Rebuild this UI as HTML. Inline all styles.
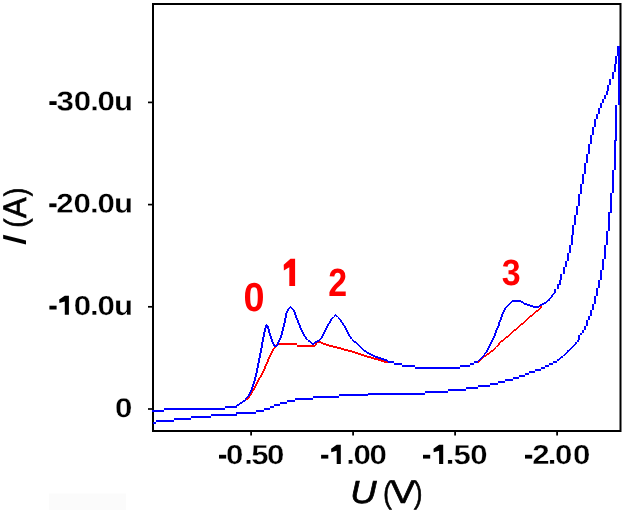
<!DOCTYPE html>
<html><head><meta charset="utf-8"><style>
html,body{margin:0;padding:0;background:#fff;}
body{width:625px;height:514px;overflow:hidden;}
svg{display:block;will-change:transform;}
text{font-family:"Liberation Sans",sans-serif;text-rendering:geometricPrecision;}
.t text{font-weight:bold;fill:#000;font-size:27.4px;stroke:#fff;stroke-width:0.3px;}
</style></head><body>
<svg width="625" height="514" viewBox="0 0 625 514">
<rect x="0" y="0" width="625" height="514" fill="#fff"/>
<rect x="49" y="493.5" width="77" height="16.5" fill="#fbfbfb"/>
<g>
<rect x="153" y="4" width="467.5" height="427" fill="none" stroke="#000" stroke-width="2"/>
<g stroke="#000" stroke-width="1.7">
<line x1="148" y1="102.4" x2="152" y2="102.4"/>
<line x1="148" y1="204.6" x2="152" y2="204.6"/>
<line x1="148" y1="306.8" x2="152" y2="306.8"/>
<line x1="148" y1="409" x2="152" y2="409"/>
</g>
<g stroke="#000" stroke-width="1.8">
<line x1="251.1" y1="432" x2="251.1" y2="435.6"/>
<line x1="353.1" y1="432" x2="353.1" y2="435.6"/>
<line x1="455.1" y1="432" x2="455.1" y2="435.6"/>
<line x1="557.1" y1="432" x2="557.1" y2="435.6"/>
</g>
<path d="M540,306h2v1h-2zM540,307h2v1h-2zM539,308h2v1h-2zM538,309h2v1h-2zM536,310h3v1h-3zM535,311h3v1h-3zM534,312h2v1h-2zM533,313h2v1h-2zM532,314h2v1h-2zM530,315h3v1h-3zM529,316h3v1h-3zM528,317h2v1h-2zM527,318h2v1h-2zM526,319h2v1h-2zM525,320h2v1h-2zM524,321h2v1h-2zM523,322h2v1h-2zM521,323h3v1h-3zM520,324h3v1h-3zM519,325h2v1h-2zM518,326h2v1h-2zM517,327h2v1h-2zM516,328h2v1h-2zM514,329h3v1h-3zM513,330h3v1h-3zM512,331h2v1h-2zM511,332h2v1h-2zM510,333h2v1h-2zM509,334h2v1h-2zM508,335h2v1h-2zM506,336h3v1h-3zM505,337h3v1h-3zM504,338h2v1h-2zM503,339h2v1h-2zM501,340h3v1h-3zM317,341h4v1h-4zM500,341h3v1h-3zM315,342h8v1h-8zM499,342h2v1h-2zM277,343h20v1h-20zM315,343h2v1h-2zM321,343h5v1h-5zM498,343h2v1h-2zM276,344h21v1h-21zM315,344h2v1h-2zM323,344h6v1h-6zM498,344h2v1h-2zM275,345h2v1h-2zM297,345h19v1h-19zM326,345h7v1h-7zM497,345h2v1h-2zM275,346h1v1h-1zM297,346h18v1h-18zM329,346h8v1h-8zM496,346h2v1h-2zM274,347h2v1h-2zM333,347h8v1h-8zM495,347h1v1h-1zM273,348h2v1h-2zM337,348h7v1h-7zM494,348h2v1h-2zM272,349h2v1h-2zM341,349h7v1h-7zM493,349h2v1h-2zM272,350h2v1h-2zM344,350h8v1h-8zM491,350h3v1h-3zM271,351h2v1h-2zM348,351h7v1h-7zM490,351h3v1h-3zM271,352h2v1h-2zM352,352h6v1h-6zM489,352h2v1h-2zM270,353h2v1h-2zM355,353h6v1h-6zM487,353h3v1h-3zM270,354h2v1h-2zM358,354h6v1h-6zM486,354h3v1h-3zM269,355h2v1h-2zM361,355h6v1h-6zM484,355h3v1h-3zM269,356h2v1h-2zM364,356h7v1h-7zM483,356h3v1h-3zM268,357h2v1h-2zM367,357h7v1h-7zM482,357h2v1h-2zM268,358h2v1h-2zM371,358h7v1h-7zM481,358h2v1h-2zM267,359h2v1h-2zM374,359h7v1h-7zM480,359h2v1h-2zM267,360h2v1h-2zM378,360h6v1h-6zM479,360h2v1h-2zM267,361h2v1h-2zM381,361h7v1h-7zM478,361h2v1h-2zM266,362h2v1h-2zM384,362h4v1h-4zM478,362h1v1h-1zM266,363h2v1h-2zM265,364h2v1h-2zM265,365h2v1h-2zM264,366h2v1h-2zM264,367h2v1h-2zM264,368h2v1h-2zM263,369h2v1h-2zM263,370h2v1h-2zM262,371h2v1h-2zM262,372h2v1h-2zM261,373h2v1h-2zM261,374h2v1h-2zM260,375h2v1h-2zM260,376h2v1h-2zM259,377h2v1h-2zM258,378h2v1h-2zM258,379h2v1h-2zM257,380h2v1h-2zM257,381h2v1h-2zM256,382h2v1h-2zM256,383h2v1h-2zM255,384h2v1h-2zM255,385h2v1h-2zM254,386h2v1h-2zM254,387h2v1h-2zM253,388h2v1h-2zM253,389h2v1h-2zM252,390h2v1h-2zM251,391h2v1h-2zM251,392h2v1h-2zM250,393h2v1h-2zM250,394h2v1h-2zM249,395h2v1h-2zM248,396h2v1h-2zM248,397h2v1h-2zM247,398h2v1h-2zM246,399h2v1h-2z" fill="#f00" shape-rendering="crispEdges"/>
<path d="M617,46h3v1h-3zM617,47h3v1h-3zM617,48h3v1h-3zM617,49h3v1h-3zM617,50h3v1h-3zM617,51h3v1h-3zM617,52h3v1h-3zM617,53h3v1h-3zM617,54h3v1h-3zM617,55h3v1h-3zM615,56h2v1h-2zM618,56h2v1h-2zM615,57h2v1h-2zM618,57h2v1h-2zM615,58h2v1h-2zM618,58h2v1h-2zM615,59h2v1h-2zM618,59h2v1h-2zM615,60h2v1h-2zM618,60h2v1h-2zM615,61h2v1h-2zM618,61h2v1h-2zM615,62h2v1h-2zM618,62h2v1h-2zM615,63h2v1h-2zM618,63h2v1h-2zM614,64h2v1h-2zM618,64h2v1h-2zM614,65h2v1h-2zM618,65h2v1h-2zM614,66h2v1h-2zM618,66h2v1h-2zM614,67h2v1h-2zM618,67h2v1h-2zM614,68h2v1h-2zM618,68h2v1h-2zM614,69h2v1h-2zM618,69h2v1h-2zM614,70h2v1h-2zM618,70h2v1h-2zM614,71h2v1h-2zM618,71h2v1h-2zM612,72h2v1h-2zM618,72h2v1h-2zM612,73h2v1h-2zM618,73h2v1h-2zM612,74h2v1h-2zM618,74h2v1h-2zM612,75h2v1h-2zM618,75h2v1h-2zM612,76h2v1h-2zM618,76h2v1h-2zM612,77h2v1h-2zM618,77h2v1h-2zM612,78h2v1h-2zM618,78h2v1h-2zM609,79h2v1h-2zM618,79h2v1h-2zM609,80h2v1h-2zM618,80h2v1h-2zM609,81h2v1h-2zM618,81h2v1h-2zM609,82h2v1h-2zM618,82h2v1h-2zM609,83h2v1h-2zM618,83h2v1h-2zM609,84h2v1h-2zM618,84h2v1h-2zM607,85h2v1h-2zM618,85h2v1h-2zM607,86h2v1h-2zM618,86h2v1h-2zM607,87h2v1h-2zM618,87h2v1h-2zM607,88h2v1h-2zM618,88h2v1h-2zM607,89h2v1h-2zM618,89h2v1h-2zM607,90h2v1h-2zM618,90h2v1h-2zM606,91h2v1h-2zM618,91h2v1h-2zM606,92h2v1h-2zM618,92h2v1h-2zM606,93h2v1h-2zM618,93h2v1h-2zM606,94h2v1h-2zM618,94h2v1h-2zM604,95h2v1h-2zM618,95h2v1h-2zM604,96h2v1h-2zM618,96h2v1h-2zM604,97h2v1h-2zM618,97h2v1h-2zM604,98h2v1h-2zM618,98h2v1h-2zM602,99h2v1h-2zM618,99h2v1h-2zM602,100h2v1h-2zM618,100h2v1h-2zM602,101h2v1h-2zM618,101h2v1h-2zM602,102h2v1h-2zM618,102h2v1h-2zM600,103h2v1h-2zM618,103h2v1h-2zM600,104h2v1h-2zM618,104h2v1h-2zM600,105h2v1h-2zM615,105h2v1h-2zM600,106h2v1h-2zM615,106h2v1h-2zM600,107h2v1h-2zM615,107h2v1h-2zM598,108h2v1h-2zM615,108h2v1h-2zM598,109h2v1h-2zM615,109h2v1h-2zM598,110h2v1h-2zM615,110h2v1h-2zM598,111h2v1h-2zM615,111h2v1h-2zM598,112h2v1h-2zM615,112h2v1h-2zM598,113h2v1h-2zM615,113h2v1h-2zM596,114h2v1h-2zM615,114h2v1h-2zM596,115h2v1h-2zM615,115h2v1h-2zM596,116h2v1h-2zM615,116h2v1h-2zM596,117h2v1h-2zM615,117h2v1h-2zM596,118h2v1h-2zM615,118h2v1h-2zM594,119h2v1h-2zM615,119h2v1h-2zM594,120h2v1h-2zM615,120h2v1h-2zM594,121h2v1h-2zM615,121h2v1h-2zM594,122h2v1h-2zM615,122h2v1h-2zM594,123h2v1h-2zM615,123h2v1h-2zM594,124h2v1h-2zM615,124h2v1h-2zM594,125h2v1h-2zM615,125h2v1h-2zM594,126h2v1h-2zM615,126h2v1h-2zM592,127h2v1h-2zM615,127h2v1h-2zM592,128h2v1h-2zM615,128h2v1h-2zM592,129h2v1h-2zM615,129h2v1h-2zM592,130h2v1h-2zM615,130h2v1h-2zM592,131h2v1h-2zM615,131h2v1h-2zM592,132h2v1h-2zM615,132h2v1h-2zM592,133h2v1h-2zM615,133h2v1h-2zM592,134h2v1h-2zM615,134h2v1h-2zM590,135h2v1h-2zM615,135h2v1h-2zM590,136h2v1h-2zM615,136h2v1h-2zM590,137h2v1h-2zM615,137h2v1h-2zM590,138h2v1h-2zM615,138h2v1h-2zM590,139h2v1h-2zM615,139h2v1h-2zM590,140h2v1h-2zM614,140h3v1h-3zM590,141h2v1h-2zM614,141h2v1h-2zM590,142h2v1h-2zM614,142h2v1h-2zM590,143h2v1h-2zM614,143h2v1h-2zM588,144h2v1h-2zM614,144h2v1h-2zM588,145h2v1h-2zM614,145h2v1h-2zM588,146h2v1h-2zM614,146h2v1h-2zM588,147h2v1h-2zM614,147h2v1h-2zM588,148h2v1h-2zM614,148h2v1h-2zM588,149h2v1h-2zM614,149h2v1h-2zM588,150h2v1h-2zM614,150h2v1h-2zM588,151h2v1h-2zM614,151h2v1h-2zM588,152h2v1h-2zM614,152h2v1h-2zM588,153h2v1h-2zM614,153h2v1h-2zM586,154h2v1h-2zM614,154h2v1h-2zM586,155h2v1h-2zM614,155h2v1h-2zM586,156h2v1h-2zM614,156h2v1h-2zM586,157h2v1h-2zM614,157h2v1h-2zM586,158h2v1h-2zM614,158h2v1h-2zM586,159h2v1h-2zM614,159h2v1h-2zM586,160h2v1h-2zM614,160h2v1h-2zM586,161h2v1h-2zM614,161h2v1h-2zM586,162h2v1h-2zM614,162h2v1h-2zM584,163h2v1h-2zM614,163h2v1h-2zM584,164h2v1h-2zM614,164h2v1h-2zM584,165h2v1h-2zM614,165h2v1h-2zM584,166h2v1h-2zM614,166h2v1h-2zM584,167h2v1h-2zM614,167h2v1h-2zM584,168h2v1h-2zM614,168h2v1h-2zM584,169h2v1h-2zM614,169h2v1h-2zM584,170h2v1h-2zM612,170h2v1h-2zM584,171h2v1h-2zM612,171h2v1h-2zM584,172h2v1h-2zM612,172h2v1h-2zM584,173h2v1h-2zM612,173h2v1h-2zM582,174h2v1h-2zM612,174h2v1h-2zM582,175h2v1h-2zM612,175h2v1h-2zM582,176h2v1h-2zM612,176h2v1h-2zM582,177h2v1h-2zM612,177h2v1h-2zM582,178h2v1h-2zM612,178h2v1h-2zM582,179h2v1h-2zM612,179h2v1h-2zM582,180h2v1h-2zM612,180h2v1h-2zM582,181h2v1h-2zM612,181h2v1h-2zM582,182h2v1h-2zM612,182h2v1h-2zM582,183h2v1h-2zM612,183h2v1h-2zM580,184h2v1h-2zM612,184h2v1h-2zM580,185h2v1h-2zM612,185h2v1h-2zM580,186h2v1h-2zM612,186h2v1h-2zM580,187h2v1h-2zM612,187h2v1h-2zM580,188h2v1h-2zM612,188h2v1h-2zM580,189h2v1h-2zM612,189h2v1h-2zM580,190h2v1h-2zM612,190h2v1h-2zM580,191h2v1h-2zM612,191h2v1h-2zM580,192h2v1h-2zM612,192h2v1h-2zM580,193h2v1h-2zM610,193h2v1h-2zM578,194h2v1h-2zM610,194h2v1h-2zM578,195h2v1h-2zM610,195h2v1h-2zM578,196h2v1h-2zM610,196h2v1h-2zM578,197h2v1h-2zM610,197h2v1h-2zM578,198h2v1h-2zM610,198h2v1h-2zM578,199h2v1h-2zM610,199h2v1h-2zM578,200h2v1h-2zM610,200h2v1h-2zM578,201h2v1h-2zM610,201h2v1h-2zM578,202h2v1h-2zM610,202h2v1h-2zM578,203h2v1h-2zM610,203h2v1h-2zM578,204h2v1h-2zM610,204h2v1h-2zM578,205h2v1h-2zM610,205h2v1h-2zM576,206h2v1h-2zM610,206h2v1h-2zM576,207h2v1h-2zM610,207h2v1h-2zM576,208h2v1h-2zM610,208h2v1h-2zM576,209h2v1h-2zM610,209h2v1h-2zM576,210h2v1h-2zM610,210h2v1h-2zM576,211h2v1h-2zM610,211h2v1h-2zM576,212h2v1h-2zM608,212h4v1h-4zM576,213h2v1h-2zM608,213h2v1h-2zM576,214h2v1h-2zM608,214h2v1h-2zM574,215h2v1h-2zM608,215h2v1h-2zM574,216h2v1h-2zM608,216h2v1h-2zM574,217h2v1h-2zM608,217h2v1h-2zM574,218h2v1h-2zM608,218h2v1h-2zM574,219h2v1h-2zM608,219h2v1h-2zM574,220h2v1h-2zM608,220h2v1h-2zM574,221h2v1h-2zM608,221h2v1h-2zM574,222h2v1h-2zM608,222h2v1h-2zM574,223h2v1h-2zM608,223h2v1h-2zM574,224h2v1h-2zM608,224h2v1h-2zM572,225h2v1h-2zM608,225h2v1h-2zM572,226h2v1h-2zM608,226h2v1h-2zM572,227h2v1h-2zM608,227h2v1h-2zM572,228h2v1h-2zM608,228h2v1h-2zM572,229h2v1h-2zM608,229h2v1h-2zM572,230h2v1h-2zM608,230h2v1h-2zM572,231h2v1h-2zM606,231h2v1h-2zM572,232h2v1h-2zM606,232h2v1h-2zM572,233h2v1h-2zM606,233h2v1h-2zM572,234h2v1h-2zM606,234h2v1h-2zM571,235h2v1h-2zM606,235h2v1h-2zM571,236h2v1h-2zM606,236h2v1h-2zM571,237h2v1h-2zM606,237h2v1h-2zM571,238h2v1h-2zM606,238h2v1h-2zM571,239h2v1h-2zM606,239h2v1h-2zM571,240h2v1h-2zM606,240h2v1h-2zM571,241h2v1h-2zM606,241h2v1h-2zM571,242h2v1h-2zM606,242h2v1h-2zM571,243h2v1h-2zM606,243h2v1h-2zM571,244h2v1h-2zM606,244h2v1h-2zM569,245h2v1h-2zM604,245h2v1h-2zM569,246h2v1h-2zM604,246h2v1h-2zM569,247h2v1h-2zM604,247h2v1h-2zM569,248h2v1h-2zM604,248h2v1h-2zM569,249h2v1h-2zM604,249h2v1h-2zM569,250h2v1h-2zM604,250h2v1h-2zM569,251h2v1h-2zM604,251h2v1h-2zM569,252h2v1h-2zM604,252h2v1h-2zM567,253h2v1h-2zM604,253h2v1h-2zM567,254h2v1h-2zM604,254h2v1h-2zM567,255h2v1h-2zM604,255h2v1h-2zM567,256h2v1h-2zM604,256h2v1h-2zM567,257h2v1h-2zM604,257h2v1h-2zM567,258h2v1h-2zM604,258h2v1h-2zM567,259h2v1h-2zM602,259h2v1h-2zM567,260h2v1h-2zM602,260h2v1h-2zM565,261h2v1h-2zM602,261h2v1h-2zM565,262h2v1h-2zM602,262h2v1h-2zM565,263h2v1h-2zM602,263h2v1h-2zM565,264h2v1h-2zM602,264h2v1h-2zM565,265h2v1h-2zM602,265h2v1h-2zM565,266h2v1h-2zM602,266h2v1h-2zM563,267h2v1h-2zM602,267h2v1h-2zM563,268h2v1h-2zM602,268h2v1h-2zM563,269h2v1h-2zM602,269h2v1h-2zM563,270h2v1h-2zM600,270h2v1h-2zM563,271h2v1h-2zM600,271h2v1h-2zM563,272h2v1h-2zM600,272h2v1h-2zM563,273h2v1h-2zM600,273h2v1h-2zM560,274h2v1h-2zM600,274h2v1h-2zM560,275h2v1h-2zM600,275h2v1h-2zM560,276h2v1h-2zM600,276h2v1h-2zM560,277h2v1h-2zM600,277h2v1h-2zM560,278h2v1h-2zM600,278h2v1h-2zM560,279h2v1h-2zM600,279h2v1h-2zM559,280h2v1h-2zM598,280h2v1h-2zM559,281h2v1h-2zM598,281h2v1h-2zM559,282h2v1h-2zM598,282h2v1h-2zM559,283h2v1h-2zM598,283h2v1h-2zM557,284h4v1h-4zM598,284h2v1h-2zM557,285h2v1h-2zM598,285h2v1h-2zM557,286h2v1h-2zM598,286h2v1h-2zM557,287h2v1h-2zM598,287h2v1h-2zM557,288h2v1h-2zM596,288h2v1h-2zM554,289h2v1h-2zM596,289h2v1h-2zM554,290h2v1h-2zM596,290h2v1h-2zM554,291h2v1h-2zM596,291h2v1h-2zM554,292h2v1h-2zM596,292h2v1h-2zM553,293h2v1h-2zM596,293h2v1h-2zM552,294h2v1h-2zM596,294h2v1h-2zM551,295h2v1h-2zM596,295h2v1h-2zM551,296h2v1h-2zM594,296h2v1h-2zM550,297h2v1h-2zM594,297h2v1h-2zM549,298h2v1h-2zM594,298h2v1h-2zM548,299h2v1h-2zM594,299h2v1h-2zM512,300h9v1h-9zM547,300h3v1h-3zM594,300h2v1h-2zM511,301h12v1h-12zM546,301h2v1h-2zM594,301h2v1h-2zM510,302h2v1h-2zM521,302h3v1h-3zM544,302h3v1h-3zM594,302h2v1h-2zM509,303h2v1h-2zM523,303h4v1h-4zM542,303h4v1h-4zM594,303h2v1h-2zM508,304h2v1h-2zM524,304h6v1h-6zM540,304h4v1h-4zM592,304h2v1h-2zM507,305h2v1h-2zM527,305h6v1h-6zM539,305h3v1h-3zM592,305h2v1h-2zM290,306h1v1h-1zM506,306h2v1h-2zM530,306h10v1h-10zM592,306h2v1h-2zM289,307h3v1h-3zM505,307h2v1h-2zM533,307h6v1h-6zM592,307h2v1h-2zM288,308h2v1h-2zM291,308h2v1h-2zM504,308h2v1h-2zM592,308h2v1h-2zM287,309h2v1h-2zM292,309h2v1h-2zM504,309h2v1h-2zM592,309h2v1h-2zM287,310h2v1h-2zM293,310h2v1h-2zM503,310h2v1h-2zM590,310h2v1h-2zM286,311h2v1h-2zM293,311h2v1h-2zM503,311h2v1h-2zM590,311h2v1h-2zM286,312h2v1h-2zM294,312h2v1h-2zM502,312h2v1h-2zM590,312h2v1h-2zM285,313h2v1h-2zM294,313h2v1h-2zM502,313h2v1h-2zM590,313h2v1h-2zM285,314h2v1h-2zM294,314h2v1h-2zM335,314h1v1h-1zM501,314h2v1h-2zM590,314h2v1h-2zM285,315h2v1h-2zM295,315h2v1h-2zM334,315h3v1h-3zM501,315h2v1h-2zM590,315h2v1h-2zM285,316h2v1h-2zM295,316h2v1h-2zM334,316h1v1h-1zM336,316h2v1h-2zM501,316h2v1h-2zM588,316h2v1h-2zM285,317h2v1h-2zM295,317h2v1h-2zM332,317h2v1h-2zM338,317h1v1h-1zM500,317h2v1h-2zM588,317h2v1h-2zM284,318h2v1h-2zM296,318h2v1h-2zM331,318h2v1h-2zM338,318h2v1h-2zM500,318h2v1h-2zM588,318h2v1h-2zM284,319h2v1h-2zM296,319h2v1h-2zM330,319h2v1h-2zM339,319h2v1h-2zM500,319h2v1h-2zM588,319h2v1h-2zM284,320h2v1h-2zM297,320h2v1h-2zM330,320h2v1h-2zM340,320h2v1h-2zM499,320h2v1h-2zM586,320h2v1h-2zM284,321h2v1h-2zM297,321h2v1h-2zM329,321h2v1h-2zM340,321h2v1h-2zM499,321h2v1h-2zM586,321h2v1h-2zM284,322h2v1h-2zM297,322h2v1h-2zM329,322h2v1h-2zM341,322h2v1h-2zM498,322h2v1h-2zM586,322h2v1h-2zM283,323h2v1h-2zM298,323h2v1h-2zM328,323h2v1h-2zM342,323h2v1h-2zM498,323h2v1h-2zM586,323h2v1h-2zM266,324h1v1h-1zM283,324h2v1h-2zM298,324h2v1h-2zM327,324h2v1h-2zM342,324h2v1h-2zM498,324h2v1h-2zM586,324h2v1h-2zM265,325h3v1h-3zM283,325h2v1h-2zM299,325h2v1h-2zM327,325h2v1h-2zM343,325h2v1h-2zM498,325h2v1h-2zM586,325h2v1h-2zM265,326h4v1h-4zM283,326h2v1h-2zM299,326h2v1h-2zM326,326h2v1h-2zM344,326h2v1h-2zM497,326h2v1h-2zM584,326h2v1h-2zM265,327h4v1h-4zM282,327h2v1h-2zM299,327h2v1h-2zM326,327h2v1h-2zM344,327h2v1h-2zM497,327h2v1h-2zM584,327h2v1h-2zM264,328h2v1h-2zM267,328h2v1h-2zM282,328h2v1h-2zM300,328h2v1h-2zM325,328h2v1h-2zM345,328h2v1h-2zM496,328h2v1h-2zM584,328h2v1h-2zM264,329h2v1h-2zM268,329h2v1h-2zM282,329h2v1h-2zM300,329h2v1h-2zM325,329h2v1h-2zM345,329h2v1h-2zM496,329h2v1h-2zM584,329h2v1h-2zM264,330h2v1h-2zM268,330h2v1h-2zM282,330h2v1h-2zM301,330h2v1h-2zM324,330h2v1h-2zM346,330h2v1h-2zM495,330h2v1h-2zM582,330h2v1h-2zM264,331h2v1h-2zM268,331h2v1h-2zM281,331h2v1h-2zM301,331h2v1h-2zM324,331h2v1h-2zM346,331h2v1h-2zM495,331h2v1h-2zM582,331h2v1h-2zM263,332h2v1h-2zM268,332h2v1h-2zM281,332h2v1h-2zM302,332h2v1h-2zM323,332h2v1h-2zM347,332h2v1h-2zM495,332h2v1h-2zM582,332h2v1h-2zM263,333h2v1h-2zM269,333h2v1h-2zM281,333h2v1h-2zM302,333h2v1h-2zM323,333h2v1h-2zM347,333h2v1h-2zM494,333h2v1h-2zM580,333h2v1h-2zM263,334h2v1h-2zM269,334h2v1h-2zM281,334h2v1h-2zM303,334h2v1h-2zM322,334h2v1h-2zM348,334h2v1h-2zM494,334h2v1h-2zM580,334h2v1h-2zM263,335h2v1h-2zM269,335h2v1h-2zM280,335h2v1h-2zM303,335h2v1h-2zM322,335h2v1h-2zM348,335h2v1h-2zM494,335h2v1h-2zM578,335h2v1h-2zM263,336h2v1h-2zM270,336h2v1h-2zM280,336h2v1h-2zM304,336h2v1h-2zM321,336h2v1h-2zM349,336h2v1h-2zM493,336h2v1h-2zM578,336h2v1h-2zM262,337h2v1h-2zM270,337h2v1h-2zM280,337h2v1h-2zM305,337h2v1h-2zM321,337h2v1h-2zM350,337h2v1h-2zM493,337h2v1h-2zM578,337h2v1h-2zM262,338h2v1h-2zM270,338h2v1h-2zM279,338h2v1h-2zM305,338h2v1h-2zM320,338h2v1h-2zM350,338h2v1h-2zM492,338h2v1h-2zM578,338h2v1h-2zM262,339h2v1h-2zM271,339h2v1h-2zM279,339h2v1h-2zM306,339h2v1h-2zM319,339h2v1h-2zM352,339h1v1h-1zM492,339h2v1h-2zM578,339h2v1h-2zM262,340h2v1h-2zM271,340h2v1h-2zM278,340h2v1h-2zM308,340h2v1h-2zM317,340h3v1h-3zM352,340h2v1h-2zM491,340h2v1h-2zM577,340h2v1h-2zM262,341h2v1h-2zM271,341h2v1h-2zM278,341h2v1h-2zM308,341h3v1h-3zM315,341h4v1h-4zM353,341h3v1h-3zM491,341h2v1h-2zM577,341h2v1h-2zM261,342h2v1h-2zM272,342h2v1h-2zM277,342h2v1h-2zM310,342h2v1h-2zM314,342h3v1h-3zM354,342h3v1h-3zM490,342h2v1h-2zM575,342h2v1h-2zM261,343h2v1h-2zM272,343h2v1h-2zM277,343h2v1h-2zM311,343h4v1h-4zM356,343h2v1h-2zM490,343h2v1h-2zM575,343h2v1h-2zM261,344h2v1h-2zM273,344h2v1h-2zM277,344h2v1h-2zM312,344h2v1h-2zM357,344h2v1h-2zM489,344h2v1h-2zM574,344h2v1h-2zM261,345h2v1h-2zM273,345h5v1h-5zM358,345h2v1h-2zM489,345h2v1h-2zM573,345h2v1h-2zM261,346h2v1h-2zM274,346h3v1h-3zM359,346h2v1h-2zM488,346h2v1h-2zM572,346h2v1h-2zM261,347h2v1h-2zM360,347h2v1h-2zM488,347h2v1h-2zM571,347h2v1h-2zM260,348h2v1h-2zM361,348h2v1h-2zM487,348h2v1h-2zM570,348h2v1h-2zM260,349h2v1h-2zM362,349h2v1h-2zM487,349h2v1h-2zM569,349h2v1h-2zM260,350h2v1h-2zM363,350h3v1h-3zM486,350h2v1h-2zM567,350h3v1h-3zM260,351h2v1h-2zM364,351h3v1h-3zM486,351h2v1h-2zM567,351h2v1h-2zM260,352h2v1h-2zM366,352h3v1h-3zM485,352h2v1h-2zM566,352h2v1h-2zM259,353h2v1h-2zM367,353h4v1h-4zM484,353h2v1h-2zM565,353h2v1h-2zM259,354h2v1h-2zM369,354h4v1h-4zM484,354h1v1h-1zM564,354h2v1h-2zM259,355h2v1h-2zM371,355h4v1h-4zM483,355h2v1h-2zM563,355h2v1h-2zM259,356h2v1h-2zM373,356h5v1h-5zM482,356h2v1h-2zM561,356h2v1h-2zM259,357h2v1h-2zM375,357h6v1h-6zM481,357h2v1h-2zM560,357h3v1h-3zM258,358h2v1h-2zM378,358h6v1h-6zM480,358h2v1h-2zM559,358h2v1h-2zM258,359h2v1h-2zM381,359h6v1h-6zM479,359h2v1h-2zM557,359h3v1h-3zM258,360h2v1h-2zM384,360h4v1h-4zM478,360h2v1h-2zM557,360h2v1h-2zM258,361h2v1h-2zM387,361h7v1h-7zM474,361h4v1h-4zM553,361h4v1h-4zM258,362h2v1h-2zM388,362h6v1h-6zM474,362h4v1h-4zM553,362h4v1h-4zM257,363h2v1h-2zM394,363h8v1h-8zM470,363h4v1h-4zM549,363h4v1h-4zM257,364h2v1h-2zM394,364h8v1h-8zM470,364h4v1h-4zM549,364h4v1h-4zM257,365h2v1h-2zM402,365h13v1h-13zM460,365h10v1h-10zM545,365h4v1h-4zM257,366h2v1h-2zM402,366h13v1h-13zM460,366h10v1h-10zM545,366h4v1h-4zM257,367h2v1h-2zM415,367h45v1h-45zM541,367h4v1h-4zM256,368h2v1h-2zM415,368h45v1h-45zM541,368h4v1h-4zM256,369h2v1h-2zM535,369h6v1h-6zM256,370h2v1h-2zM535,370h6v1h-6zM256,371h2v1h-2zM529,371h6v1h-6zM256,372h2v1h-2zM529,372h6v1h-6zM255,373h2v1h-2zM525,373h4v1h-4zM255,374h2v1h-2zM525,374h4v1h-4zM255,375h2v1h-2zM519,375h6v1h-6zM255,376h2v1h-2zM519,376h6v1h-6zM254,377h2v1h-2zM513,377h6v1h-6zM254,378h2v1h-2zM513,378h6v1h-6zM254,379h2v1h-2zM505,379h8v1h-8zM254,380h2v1h-2zM505,380h8v1h-8zM253,381h2v1h-2zM498,381h7v1h-7zM253,382h2v1h-2zM498,382h7v1h-7zM253,383h2v1h-2zM490,383h8v1h-8zM252,384h2v1h-2zM490,384h8v1h-8zM252,385h2v1h-2zM478,385h12v1h-12zM252,386h2v1h-2zM478,386h12v1h-12zM251,387h2v1h-2zM466,387h12v1h-12zM251,388h2v1h-2zM466,388h12v1h-12zM251,389h2v1h-2zM448,389h18v1h-18zM250,390h2v1h-2zM448,390h18v1h-18zM250,391h2v1h-2zM425,391h23v1h-23zM249,392h2v1h-2zM425,392h23v1h-23zM249,393h2v1h-2zM368,393h57v1h-57zM248,394h2v1h-2zM339,394h86v1h-86zM248,395h2v1h-2zM339,395h29v1h-29zM247,396h2v1h-2zM313,396h26v1h-26zM246,397h2v1h-2zM313,397h26v1h-26zM245,398h2v1h-2zM295,398h18v1h-18zM245,399h1v1h-1zM295,399h18v1h-18zM243,400h3v1h-3zM287,400h8v1h-8zM242,401h3v1h-3zM287,401h8v1h-8zM240,402h3v1h-3zM280,402h7v1h-7zM239,403h3v1h-3zM280,403h7v1h-7zM237,404h3v1h-3zM274,404h6v1h-6zM236,405h3v1h-3zM274,405h6v1h-6zM225,406h12v1h-12zM270,406h4v1h-4zM225,407h12v1h-12zM270,407h4v1h-4zM164,408h61v1h-61zM264,408h6v1h-6zM164,409h61v1h-61zM264,409h6v1h-6zM152,410h12v1h-12zM256,410h8v1h-8zM152,411h12v1h-12zM256,411h8v1h-8zM236,412h20v1h-20zM236,413h20v1h-20zM211,414h26v1h-26zM211,415h26v1h-26zM191,416h20v1h-20zM191,417h20v1h-20zM174,418h17v1h-17zM174,419h17v1h-17zM156,420h18v1h-18zM156,421h18v1h-18zM153,422h3v1h-3zM153,423h3v1h-3z" fill="#00f" shape-rendering="crispEdges"/>
</g>
<g class="t">
<rect x="49.40" y="101.20" width="7.2" height="3.8" fill="#000"/>
<text transform="translate(56.53,110.5) scale(1.14,1) rotate(0.05)">3</text>
<text transform="translate(73.81,110.5) scale(1.14,1) rotate(0.05)">0</text>
<text transform="translate(90.13,110.5) scale(1.14,1) rotate(0.05)">.</text>
<text transform="translate(97.41,110.5) scale(1.14,1) rotate(0.05)">0</text>
<text transform="translate(113.91,110.5) scale(1.14,1) rotate(0.05)">u</text>
<rect x="49.30" y="203.40" width="7.2" height="3.8" fill="#000"/>
<text transform="translate(56.17,212.7) scale(1.14,1) rotate(0.05)">2</text>
<text transform="translate(73.61,212.7) scale(1.14,1) rotate(0.05)">0</text>
<text transform="translate(89.93,212.7) scale(1.14,1) rotate(0.05)">.</text>
<text transform="translate(97.41,212.7) scale(1.14,1) rotate(0.05)">0</text>
<text transform="translate(113.91,212.7) scale(1.14,1) rotate(0.05)">u</text>
<rect x="49.40" y="305.70" width="7.2" height="3.8" fill="#000"/>
<path d="M64.80,295.70H68.90V314.80H64.80V301.60L59.40,303.10L59.20,299.60Z" fill="#000"/>
<text transform="translate(73.71,315.0) scale(1.14,1) rotate(0.05)">0</text>
<text transform="translate(90.03,315.0) scale(1.14,1) rotate(0.05)">.</text>
<text transform="translate(97.41,315.0) scale(1.14,1) rotate(0.05)">0</text>
<text transform="translate(113.91,315.0) scale(1.14,1) rotate(0.05)">u</text>
<text transform="translate(114.91,417.2) scale(1.14,1) rotate(0.05)">0</text>
<rect x="219.00" y="454.80" width="7.2" height="3.8" fill="#000"/>
<text transform="translate(226.01,464.1) scale(1.14,1) rotate(0.05)">0</text>
<text transform="translate(244.13,464.1) scale(1.14,1) rotate(0.05)">.</text>
<text transform="translate(251.19,464.1) scale(1.14,1) rotate(0.05)">5</text>
<text transform="translate(266.91,464.1) scale(1.14,1) rotate(0.05)">0</text>
<rect x="321.10" y="454.80" width="7.2" height="3.8" fill="#000"/>
<path d="M336.70,444.80H340.80V463.90H336.70V450.70L331.30,452.20L331.10,448.70Z" fill="#000"/>
<text transform="translate(346.23,464.1) scale(1.14,1) rotate(0.05)">.</text>
<text transform="translate(353.51,464.1) scale(1.14,1) rotate(0.05)">0</text>
<text transform="translate(369.61,464.1) scale(1.14,1) rotate(0.05)">0</text>
<rect x="423.00" y="454.80" width="7.2" height="3.8" fill="#000"/>
<path d="M439.10,444.80H443.20V463.90H439.10V450.70L433.70,452.20L433.50,448.70Z" fill="#000"/>
<text transform="translate(445.73,464.1) scale(1.14,1) rotate(0.05)">.</text>
<text transform="translate(453.39,464.1) scale(1.14,1) rotate(0.05)">5</text>
<text transform="translate(470.31,464.1) scale(1.14,1) rotate(0.05)">0</text>
<rect x="525.00" y="454.80" width="7.2" height="3.8" fill="#000"/>
<text transform="translate(532.17,464.1) scale(1.14,1) rotate(0.05)">2</text>
<text transform="translate(547.73,464.1) scale(1.14,1) rotate(0.05)">.</text>
<text transform="translate(555.11,464.1) scale(1.14,1) rotate(0.05)">0</text>
<text transform="translate(572.91,464.1) scale(1.14,1) rotate(0.05)">0</text>
</g>
<text font-size="40.40" font-weight="bold" font-style="normal" fill="#f00" transform="translate(243.60,311.11) scale(0.9369,1)">0</text>
<text font-size="39.38" font-weight="bold" font-style="normal" fill="#f00" transform="translate(328.33,295.60) scale(0.8596,1)">2</text>
<text font-size="36.65" font-weight="bold" font-style="normal" fill="#f00" transform="translate(501.82,284.99) scale(0.9278,1)">3</text>
<path d="M283.7,264.8 L290.5,258.7 L295.1,258.7 L295.1,286 L289.3,286 L289.3,267.2 L283.9,270.5 Z" fill="#f00"/>
<text font-size="31.96" font-weight="normal" font-style="italic" fill="#000" stroke="#000" stroke-width="0.7" transform="translate(350.19,502.59) scale(1.1368,1)">U</text>
<text font-size="30.48" font-weight="normal" font-style="normal" fill="#000" stroke="#000" stroke-width="0.7" transform="translate(383.23,502.69) scale(0.8290,1)">(</text>
<text font-size="32.41" font-weight="normal" font-style="normal" fill="#000" stroke="#000" stroke-width="0.7" transform="translate(390.44,502.90) scale(1.1484,1)">V</text>
<text font-size="30.48" font-weight="normal" font-style="normal" fill="#000" stroke="#000" stroke-width="0.7" transform="translate(413.95,502.69) scale(0.8290,1)">)</text>
<text font-size="30.81" font-weight="normal" font-style="normal" fill="#000" stroke="#000" stroke-width="0.7" transform="translate(26.22,196.25) rotate(-90) scale(0.8203,1)">)</text>
<text font-size="32.70" font-weight="normal" font-style="normal" fill="#000" stroke="#000" stroke-width="0.7" transform="translate(26.40,217.96) rotate(-90) scale(0.9407,1)">A</text>
<text font-size="30.81" font-weight="normal" font-style="normal" fill="#000" stroke="#000" stroke-width="0.7" transform="translate(26.22,227.71) rotate(-90) scale(0.8938,1)">(</text>
<text font-size="33.29" font-weight="normal" font-style="italic" fill="#000" transform="translate(26.40,246.29) rotate(-90) scale(1.2835,1)">I</text>
</svg>
</body></html>
